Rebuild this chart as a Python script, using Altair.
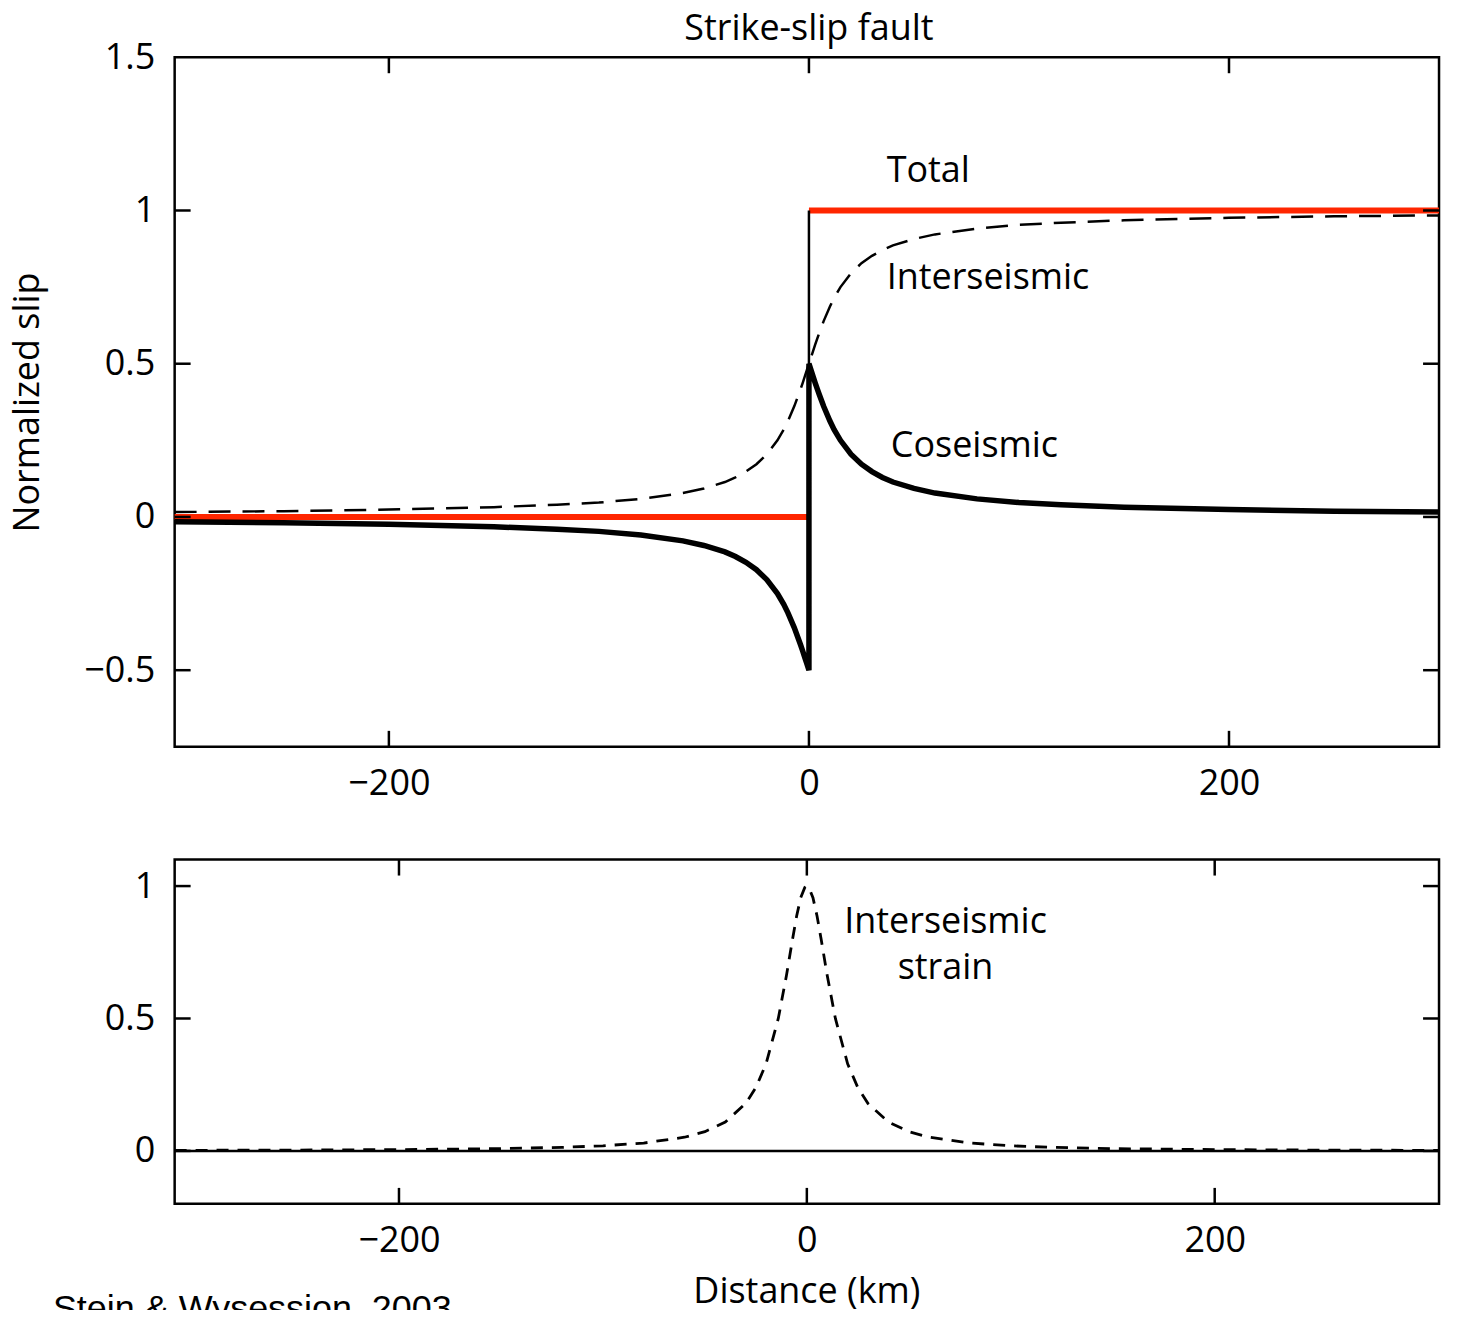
import altair as alt
import pandas as pd

# ---------------- data ----------------
x_neg = [-302, -250, -200, -150, -120, -100, -80, -60, -50, -40, -35, -30, -25, -20, -15, -12, -10, -7, -5, -4, -3, -2, -1]
x_pos = [1, 2, 3, 4, 5, 7, 10, 12, 15, 20, 25, 30, 35, 40, 50, 60, 80, 100, 120, 150, 200, 250, 300]

inter_neg = [0.016, 0.019, 0.024, 0.032, 0.040, 0.047, 0.059, 0.078, 0.093, 0.114, 0.129,
             0.148, 0.172, 0.205, 0.250, 0.285, 0.313, 0.361, 0.398, 0.417, 0.437, 0.458, 0.479]
inter_pos = [0.521, 0.542, 0.563, 0.583, 0.602, 0.639, 0.687, 0.715, 0.750, 0.795, 0.828, 0.852, 0.871,
             0.886, 0.907, 0.922, 0.941, 0.953, 0.960, 0.968, 0.976, 0.981, 0.984]

cos_neg = [-0.016, -0.019, -0.024, -0.032, -0.040, -0.047, -0.059, -0.078, -0.093, -0.114, -0.129,
           -0.148, -0.172, -0.205, -0.250, -0.285, -0.313, -0.361, -0.398, -0.417, -0.437, -0.458, -0.479]
cos_pos = [0.479, 0.458, 0.437, 0.417, 0.398, 0.361, 0.313, 0.285, 0.250, 0.205, 0.172, 0.148, 0.129,
           0.114, 0.093, 0.078, 0.059, 0.047, 0.040, 0.032, 0.024, 0.019, 0.016]

total_x = [-302, 0, 0, 300]
total_y = [0, 0, 1, 1]
total_seg = ["left", "left", "right", "right"]

step_x = [0, 0]
step_y = [0, 1]

strain_x = [-310, -250, -200, -150, -120, -100, -80, -60, -50, -40, -30, -25, -20, -14, -10, -7, -5, -3, -1, 0,
            1, 3, 5, 7, 10, 14, 20, 25, 30, 40, 50, 60, 80, 100, 120, 150, 200, 250, 310]
strain_y = [0.002, 0.0031, 0.0049, 0.0086, 0.0134, 0.0192, 0.0297, 0.0516, 0.0727, 0.109, 0.179, 0.239, 0.329, 0.5,
            0.662, 0.8, 0.887, 0.956, 0.995, 1.0,
            0.995, 0.956, 0.887, 0.8, 0.662, 0.5, 0.329, 0.239, 0.179, 0.109, 0.0727, 0.0516, 0.0297, 0.0192,
            0.0134, 0.0086, 0.0049, 0.0031, 0.002]

zero_x = [-310, 310]
zero_y = [0, 0]

x_ticks = [-200, 0, 200]
top_y_ticks = [-0.5, 0, 0.5, 1]
top_y_labels = [-0.5, 0, 0.5, 1, 1.5]
bot_y_ticks = [0, 0.5, 1]

top_labels = ["Total", "Interseismic", "Coseismic"]
top_label_x = [37, 37, 39]
top_label_y = [1.13, 0.78, 0.232]

bot_labels = ["Interseismic", "strain"]
bot_label_x = [68, 68]
bot_label_y = [0.864, 0.689]

title_text = ["Strike-slip fault"]
xtitle_text = ["Distance (km)"]
credit_text = ["Stein & Wysession, 2003"]

# ---------------- tables ----------------
inter_df = pd.DataFrame({"x": x_neg + [0] + x_pos, "y": inter_neg + [0.5] + inter_pos})
inter_df["i"] = range(len(inter_df))
cos_df = pd.DataFrame({"x": x_neg + [0, 0] + x_pos, "y": cos_neg + [-0.5, 0.5] + cos_pos})
cos_df["i"] = range(len(cos_df))
total_df = pd.DataFrame({"x": total_x, "y": total_y, "seg": total_seg})
step_df = pd.DataFrame({"x": step_x, "y": step_y})
strain_df = pd.DataFrame({"x": strain_x, "y": strain_y})
zero_df = pd.DataFrame({"x": zero_x, "y": zero_y})
xt_df = pd.DataFrame({"v": x_ticks})
tyt_df = pd.DataFrame({"v": top_y_ticks})
byt_df = pd.DataFrame({"v": bot_y_ticks})
tl_df = pd.DataFrame({"t": top_labels, "x": top_label_x, "y": top_label_y})
bl_df = pd.DataFrame({"t": bot_labels, "x": bot_label_x, "y": bot_label_y})
ti_df = pd.DataFrame({"t": title_text, "x": [0]})
xti_df = pd.DataFrame({"t": xtitle_text, "x": [0]})
cr_df = pd.DataFrame({"t": credit_text})

FONT = "Open Sans"
FS = 36
W = 1267
H1 = 691
H2 = 345
TICK = 16

xs_top = alt.Scale(domain=[-302, 300], nice=False, zero=False)
ys_top = alt.Scale(domain=[-0.75, 1.5], nice=False, zero=False)
xs_bot = alt.Scale(domain=[-310, 310], nice=False, zero=False)
ys_bot = alt.Scale(domain=[-0.2, 1.1], nice=False, zero=False)

ax_common = dict(domain=False, ticks=False, grid=False, labelFont=FONT, labelFontSize=FS,
                 labelColor="black", labelPadding=20,
                 titleFont=FONT, titleFontSize=FS, titleFontWeight="normal", titleColor="black")

# ---------------- top panel ----------------
x_top = alt.X("x:Q", scale=xs_top, axis=alt.Axis(values=x_ticks, title=None, format="d", **ax_common))
y_top = alt.Y("y:Q", scale=ys_top, axis=alt.Axis(values=top_y_labels, title="Normalized slip",
                                                 format="~r", titlePadding=37, **ax_common))

red = alt.Chart(total_df).mark_line(color="#ff2600", strokeWidth=6).encode(
    x=x_top, y=y_top, detail="seg:N")
inter = alt.Chart(inter_df).mark_line(color="black", strokeWidth=2.5, strokeDash=[22, 12]).encode(
    x=alt.X("x:Q", scale=xs_top), y=alt.Y("y:Q", scale=ys_top), order="i:Q")
step = alt.Chart(step_df).mark_line(color="black", strokeWidth=2.5).encode(
    x=alt.X("x:Q", scale=xs_top), y=alt.Y("y:Q", scale=ys_top))
cos = alt.Chart(cos_df).mark_line(color="black", strokeWidth=5.5).encode(
    x=alt.X("x:Q", scale=xs_top), y=alt.Y("y:Q", scale=ys_top), order="i:Q")
top_text = alt.Chart(tl_df).mark_text(font=FONT, fontSize=FS, align="left", baseline="middle",
                                      color="black").encode(
    x=alt.X("x:Q", scale=xs_top), y=alt.Y("y:Q", scale=ys_top), text="t:N")
title = alt.Chart(ti_df).mark_text(font=FONT, fontSize=FS, align="center", baseline="alphabetic",
                                   color="black").encode(
    x=alt.X("x:Q", scale=xs_top), y=alt.value(-17), text="t:N")

tick_style = dict(color="black", strokeWidth=2.5)
t_xb = alt.Chart(xt_df).mark_rule(**tick_style).encode(
    x=alt.X("v:Q", scale=xs_top), y=alt.value(H1), y2=alt.value(H1 - TICK))
t_xt = alt.Chart(xt_df).mark_rule(**tick_style).encode(
    x=alt.X("v:Q", scale=xs_top), y=alt.value(0), y2=alt.value(TICK))
t_yl = alt.Chart(tyt_df).mark_rule(**tick_style).encode(
    y=alt.Y("v:Q", scale=ys_top), x=alt.value(0), x2=alt.value(TICK))
t_yr = alt.Chart(tyt_df).mark_rule(**tick_style).encode(
    y=alt.Y("v:Q", scale=ys_top), x=alt.value(W), x2=alt.value(W - TICK))

top = alt.layer(red, inter, step, cos, top_text, title, t_xb, t_xt, t_yl, t_yr).properties(
    width=W, height=H1)

# ---------------- bottom panel ----------------
x_bot = alt.X("x:Q", scale=xs_bot, axis=alt.Axis(values=x_ticks, title=None, format="d", **ax_common))
y_bot = alt.Y("y:Q", scale=ys_bot, axis=alt.Axis(values=bot_y_ticks, title=None, format="~r", **ax_common))

zero = alt.Chart(zero_df).mark_line(color="black", strokeWidth=2.5).encode(x=x_bot, y=y_bot)
strain = alt.Chart(strain_df).mark_line(color="black", strokeWidth=2.8, strokeDash=[12, 9]).encode(
    x=alt.X("x:Q", scale=xs_bot), y=alt.Y("y:Q", scale=ys_bot))
bot_text = alt.Chart(bl_df).mark_text(font=FONT, fontSize=FS, align="center", baseline="middle",
                                      color="black").encode(
    x=alt.X("x:Q", scale=xs_bot), y=alt.Y("y:Q", scale=ys_bot), text="t:N")
xtitle = alt.Chart(xti_df).mark_text(font=FONT, fontSize=FS, align="center", baseline="middle",
                                     color="black").encode(
    x=alt.X("x:Q", scale=xs_bot), y=alt.value(H2 + 88), text="t:N")
b_xb = alt.Chart(xt_df).mark_rule(**tick_style).encode(
    x=alt.X("v:Q", scale=xs_bot), y=alt.value(H2), y2=alt.value(H2 - TICK))
b_xt = alt.Chart(xt_df).mark_rule(**tick_style).encode(
    x=alt.X("v:Q", scale=xs_bot), y=alt.value(0), y2=alt.value(TICK))
b_yl = alt.Chart(byt_df).mark_rule(**tick_style).encode(
    y=alt.Y("v:Q", scale=ys_bot), x=alt.value(0), x2=alt.value(TICK))
b_yr = alt.Chart(byt_df).mark_rule(**tick_style).encode(
    y=alt.Y("v:Q", scale=ys_bot), x=alt.value(W), x2=alt.value(W - TICK))
credit = alt.Chart(cr_df).mark_text(
    font="Liberation Sans", fontSize=36, align="left", baseline="alphabetic", color="black").encode(
    x=alt.value(-122), y=alt.value(461), text="t:N")

bottom = alt.layer(zero, strain, bot_text, xtitle, b_xb, b_xt, b_yl, b_yr, credit).properties(
    width=W, height=H2)

chart = alt.vconcat(top, bottom, spacing=53).properties(
    padding={"left": 0, "top": 0, "right": 0, "bottom": -20}
).configure_view(stroke="black", strokeWidth=2.5)

chart.save("out.html", embed_options={"renderer": "svg", "actions": False})
